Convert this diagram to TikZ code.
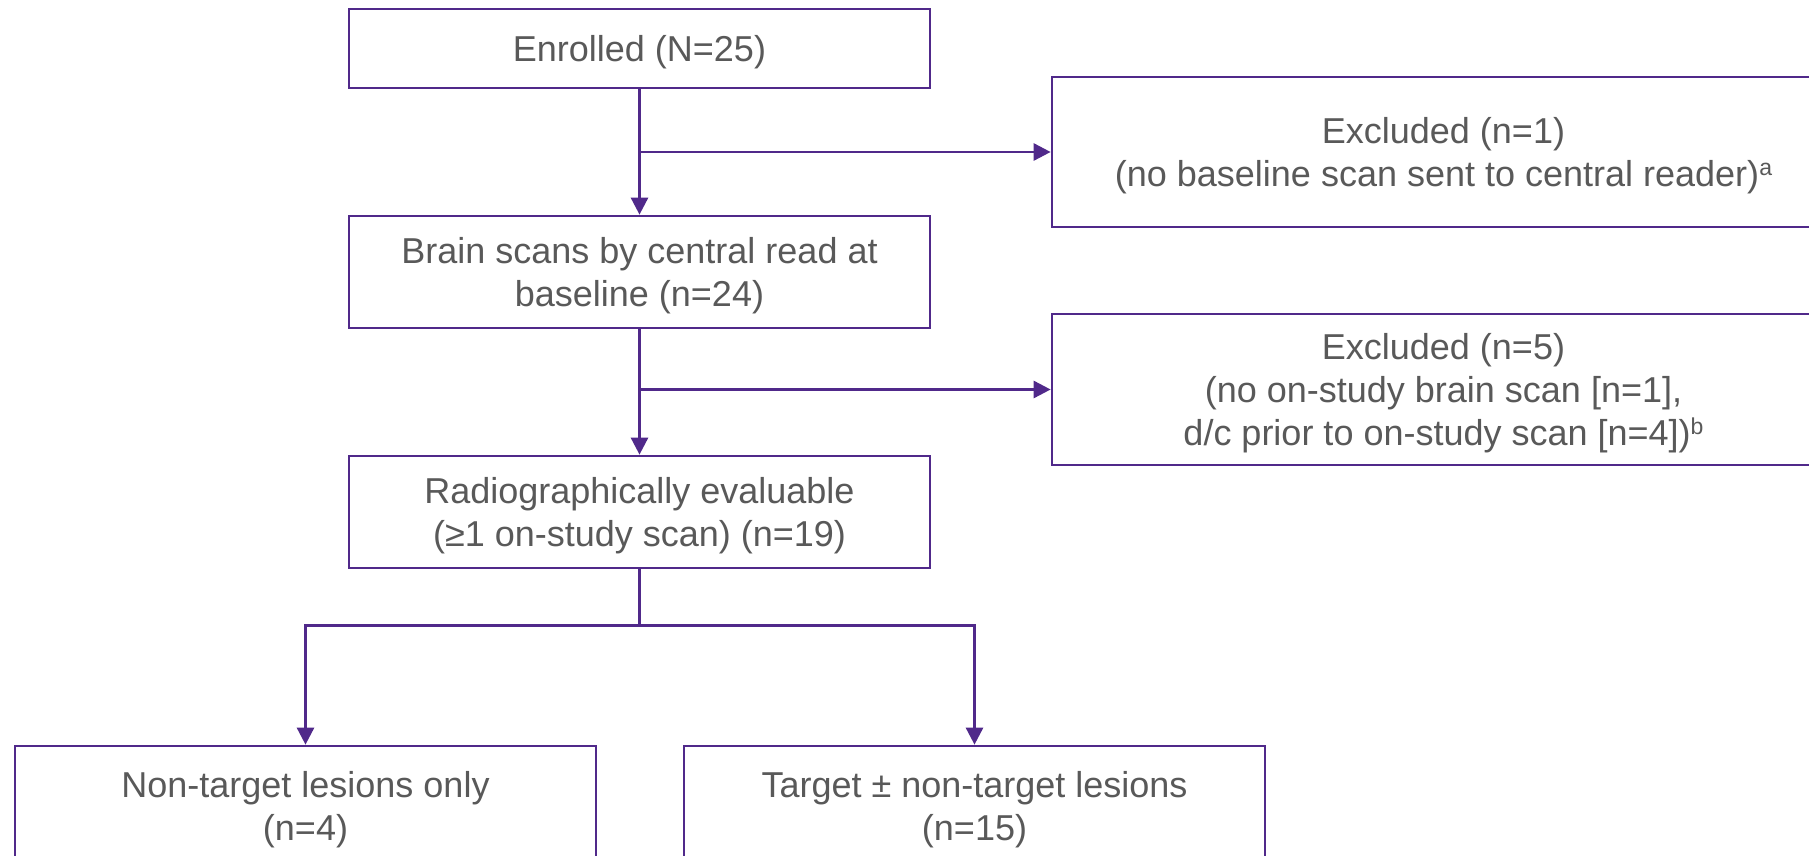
\documentclass[tikz,border=0pt]{standalone}
\usepackage{fontspec}
\setmainfont{Liberation Sans}
\usetikzlibrary{arrows.meta}
\definecolor{lineP}{HTML}{50298A}
\definecolor{txtG}{HTML}{595959}
\newcommand{\mysupx}[1]{\raisebox{5.5pt}{\fontsize{11.5}{11.5}\selectfont #1}}
\begin{document}
\begin{tikzpicture}[x=0.5pt,y=-0.5pt,
  box/.style={draw=lineP, line width=1.35pt, fill=white, inner sep=0pt, align=center, text=txtG, text depth=-1.5pt, font=\fontsize{18}{21.7}\selectfont},
  conn/.style={draw=lineP, line width=1.35pt, -{Triangle[length=8.5pt,width=8.5pt]}},
  plainline/.style={draw=lineP, line width=1.35pt}]
\useasboundingbox (0,0) rectangle (1809,856);
\clip (0,0) rectangle (1809,856);
\node[box, minimum width=290.5pt, minimum height=39.5pt] (enr) at (639.5,48.5) {Enrolled (N=25)};
\node[box, minimum width=290.5pt, minimum height=56pt] (brain) at (639.5,272) {Brain scans by central read at\\baseline (n=24)};
\node[box, minimum width=290.5pt, minimum height=56pt] (radio) at (639.5,512) {Radiographically evaluable\\(≥1 on-study scan) (n=19)};
\node[box, minimum width=391.5pt, minimum height=75pt] (excl1) at (1443.5,152) {Excluded (n=1)\\(no baseline scan sent to central reader)\mysupx{a}};
\node[box, minimum width=391.5pt, minimum height=75.5pt] (excl2) at (1443.5,389.5) {Excluded (n=5)\\(no on-study brain scan [n=1],\\d/c prior to on-study scan [n=4])\mysupx{b}};
\node[box, minimum width=290.5pt, minimum height=60pt] (nt) at (305.5,806) {Non-target lesions only\\(n=4)};
\node[box, minimum width=290.5pt, minimum height=60pt] (tg) at (974.5,806) {Target ± non-target lesions\\(n=15)};
\draw[conn] (enr.south) -- (brain.north);
\draw[conn] (enr.south |- excl1.west) -- (excl1.west);
\draw[conn] (brain.south) -- (radio.north);
\draw[conn] (brain.south |- excl2.west) -- (excl2.west);
\draw[plainline] (radio.south) -- ++(0,56) coordinate (split);
\draw[conn] (split) -| (nt.north);
\draw[conn] (split) -| (tg.north);
\end{tikzpicture}
\end{document}
